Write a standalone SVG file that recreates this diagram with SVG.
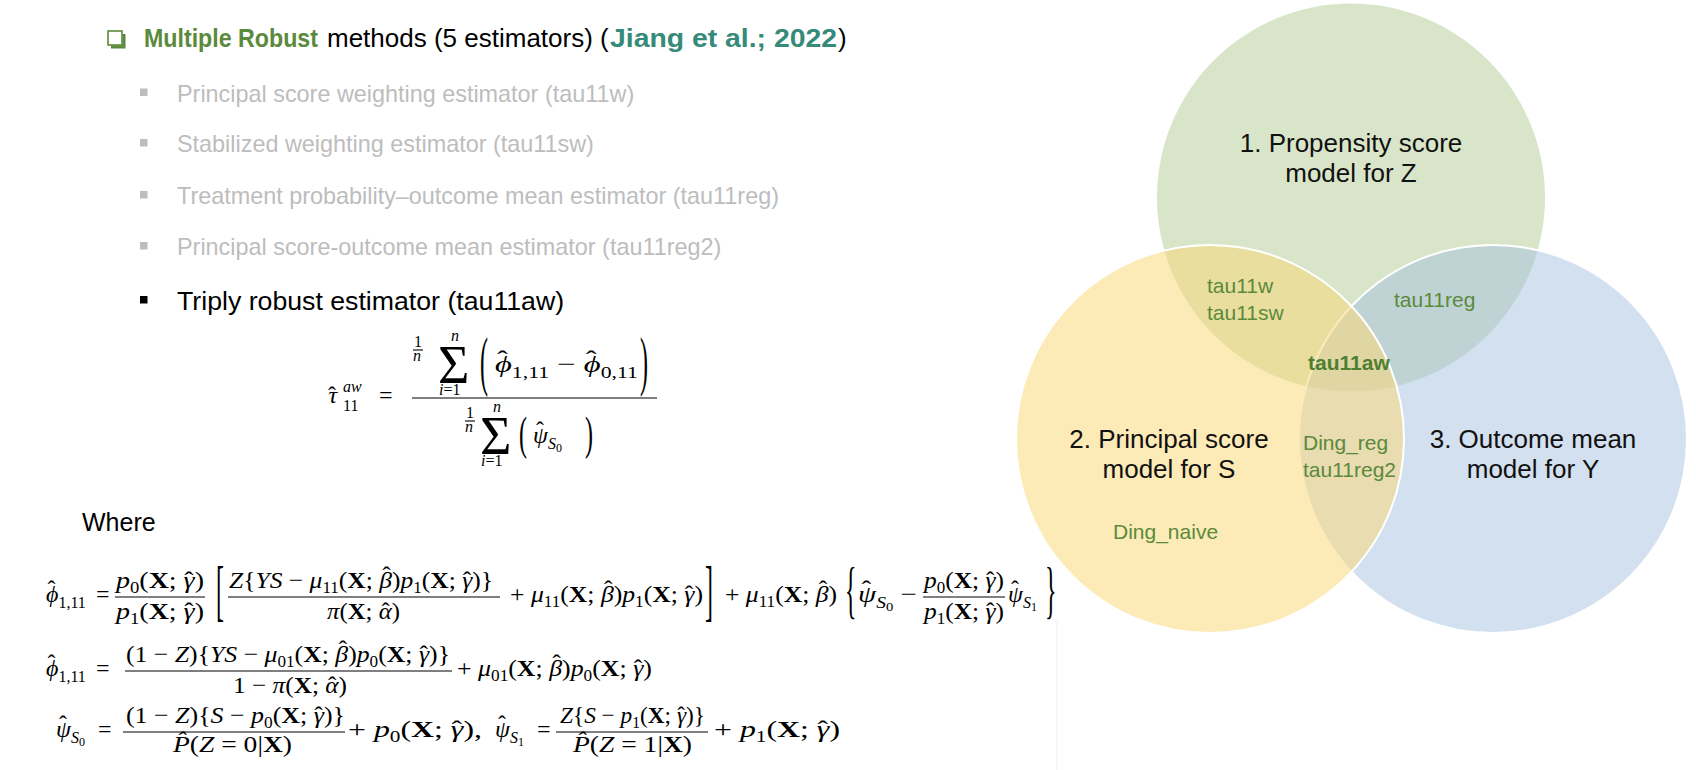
<svg xmlns="http://www.w3.org/2000/svg" width="1696" height="770" viewBox="0 0 1696 770">
<style>
.s{font-family:"Liberation Sans",Arial,sans-serif}
.h{font-size:26px;fill:#000}
.hb{font-size:26px;font-weight:bold}
.g{font-size:23.4px;fill:#BDBDBD}
.t{font-size:26.7px;fill:#000}
.vl{font-size:26px;fill:#111;text-anchor:middle}
.vs{font-size:21px;fill:#5A8A3A}
.mt{font-family:"Liberation Serif","DejaVu Serif",serif;font-size:24px;font-style:italic;fill:#000}
.r{font-style:normal}
.b{font-weight:bold;font-style:normal}
.m16{font-size:16px}
.m12{font-size:12px}
.bar{stroke:#000;stroke-width:1.1}
</style>
<rect width="1696" height="770" fill="#fff"/>

<g id="venn">
  <g id="circle-propensity"><circle cx="1351" cy="197.5" r="194" fill="#D8E5C9"/></g>
  <g id="circle-outcome"><circle cx="1493" cy="439" r="194" fill="#A7C1DF" fill-opacity="0.5" stroke="#fff" stroke-width="2"/></g>
  <g id="circle-principal"><circle cx="1210" cy="439" r="194" fill="#FAD97C" fill-opacity="0.55" stroke="#fff" stroke-width="2"/></g>
  <g id="venn-labels" class="s">
    <text class="vl" x="1351" y="152">1. Propensity score</text>
    <text class="vl" x="1351" y="182">model for Z</text>
    <text class="vl" x="1169" y="448">2. Principal score</text>
    <text class="vl" x="1169" y="478">model for S</text>
    <text class="vl" x="1533" y="448">3. Outcome mean</text>
    <text class="vl" x="1533" y="478">model for Y</text>
    <text class="vs" x="1207" y="292.5">tau11w</text>
    <text class="vs" x="1207" y="320">tau11sw</text>
    <text class="vs" x="1394" y="307">tau11reg</text>
    <text class="vs" x="1308" y="370" style="font-weight:bold;fill:#4F7F30">tau11aw</text>
    <text class="vs" x="1303" y="450">Ding_reg</text>
    <text class="vs" x="1303" y="477">tau11reg2</text>
    <text class="vs" x="1113" y="539">Ding_naive</text>
  </g>
</g>

<g id="header" class="s">
  <rect x="108" y="31" width="14" height="14" fill="#fff" stroke="#5B8A3A" stroke-width="1.6"/>
  <path d="M111 47 H124 V34" fill="none" stroke="#5B8A3A" stroke-width="3"/>
  <text class="hb" x="144" y="47" style="fill:#5B8A3A" textLength="174" lengthAdjust="spacingAndGlyphs">Multiple Robust</text>
  <text class="h" x="327" y="47">methods (5 estimators) (</text>
  <text class="hb" x="610" y="47" style="fill:#368A7A" textLength="227" lengthAdjust="spacingAndGlyphs">Jiang et al.; 2022</text>
  <text class="h" x="838" y="47">)</text>
</g>

<g id="estimator-list" class="s">
  <rect x="140" y="88.5" width="7.5" height="7.5" fill="#BDBDBD"/>
  <text class="g" x="177" y="101.5">Principal score weighting estimator (tau11w)</text>
  <rect x="140" y="139" width="7.5" height="7.5" fill="#BDBDBD"/>
  <text class="g" x="177" y="152">Stabilized weighting estimator (tau11sw)</text>
  <rect x="140" y="191" width="7.5" height="7.5" fill="#BDBDBD"/>
  <text class="g" x="177" y="203.5">Treatment probability–outcome mean estimator (tau11reg)</text>
  <rect x="140" y="242" width="7.5" height="7.5" fill="#BDBDBD"/>
  <text class="g" x="177" y="254.5">Principal score-outcome mean estimator (tau11reg2)</text>
  <rect x="140" y="296" width="7.5" height="7.5" fill="#000"/>
  <text class="t" x="177" y="310">Triply robust estimator (tau11aw)</text>
</g>

<g id="formula-tau">
  <text class="mt" x="328" y="403">&#x3C4;<tspan class="r" dx="-9">&#x2C6;</tspan></text>
  <text class="mt m16" x="343" y="392">aw</text>
  <text class="mt r m16" x="343" y="411">11</text>
  <text class="mt r" x="379" y="403">=</text>
  <line class="bar" x1="412" y1="398" x2="657" y2="398"/>
  <text class="mt r m16" x="414" y="347">1</text>
  <line class="bar" x1="413" y1="350" x2="423" y2="350"/>
  <text class="mt m16" x="413" y="361">n</text>
  <text class="mt r" style="font-size:54px" x="438" y="383">&#x3A3;</text>
  <text class="mt m16" x="451" y="341">n</text>
  <text class="mt m16" x="439" y="395">i<tspan class="r">=1</tspan></text>
  <text class="mt r" transform="translate(480,382.5) scale(1,2.7)">(</text>
  <text class="mt" x="495" y="372" textLength="143" lengthAdjust="spacingAndGlyphs">&#x3D5;<tspan class="r" dx="-11" dy="-5">&#x2C6;</tspan><tspan class="r m16" dx="3" dy="11">1,11</tspan><tspan class="r" dy="-6"> &#x2212; </tspan>&#x3D5;<tspan class="r" dx="-11" dy="-5">&#x2C6;</tspan><tspan class="r m16" dx="3" dy="11">0,11</tspan></text>
  <text class="mt r" transform="translate(640,382.5) scale(1,2.7)">)</text>
  <text class="mt r m16" x="466" y="418">1</text>
  <line class="bar" x1="465" y1="421" x2="475" y2="421"/>
  <text class="mt m16" x="465" y="432">n</text>
  <text class="mt r" style="font-size:54px" x="480" y="454">&#x3A3;</text>
  <text class="mt m16" x="493" y="412">n</text>
  <text class="mt m16" x="481" y="466">i<tspan class="r">=1</tspan></text>
  <text class="mt r" transform="translate(519,449) scale(1,1.9)">(</text>
  <text class="mt" x="533" y="443">&#x3C8;<tspan class="r" dx="-12" dy="-5">&#x2C6;</tspan><tspan class="m16" dx="4" dy="11">S</tspan><tspan class="r m12" dy="3">0</tspan></text>
  <text class="mt r" transform="translate(585,449) scale(1,1.9)">)</text>
</g>

<g id="where" class="s">
  <text class="t" x="82" y="531" style="font-size:25px">Where</text>
</g>

<g id="formula-phi1">
  <text class="mt" x="46" y="602">&#x3D5;<tspan class="r" dx="-11" dy="-5">&#x2C6;</tspan><tspan class="r m16" dx="3" dy="11">1,11</tspan></text>
  <text class="mt r" x="96" y="602">=</text>
  <text class="mt" x="116" y="588" textLength="88" lengthAdjust="spacingAndGlyphs">p<tspan class="r m16" dy="5">0</tspan><tspan class="r" dy="-5">(</tspan><tspan class="b">X</tspan><tspan class="r">; </tspan>&#x3B3;<tspan class="r" dx="-9">&#x2C6;</tspan><tspan class="r" dx="1">)</tspan></text>
  <line class="bar" x1="115" y1="597" x2="205" y2="597"/>
  <text class="mt" x="116" y="619" textLength="88" lengthAdjust="spacingAndGlyphs">p<tspan class="r m16" dy="5">1</tspan><tspan class="r" dy="-5">(</tspan><tspan class="b">X</tspan><tspan class="r">; </tspan>&#x3B3;<tspan class="r" dx="-9">&#x2C6;</tspan><tspan class="r" dx="1">)</tspan></text>
  <text class="mt r" transform="translate(216,613) scale(1,2.8)">[</text>
  <text class="mt" x="229" y="588" textLength="264" lengthAdjust="spacingAndGlyphs">Z<tspan class="r">{</tspan>YS<tspan class="r"> &#x2212; </tspan>&#x3BC;<tspan class="r m16" dy="5">11</tspan><tspan class="r" dy="-5">(</tspan><tspan class="b">X</tspan><tspan class="r">; </tspan>&#x3B2;<tspan class="r" dx="-9" dy="-5">&#x2C6;</tspan><tspan class="r" dx="1" dy="5">)</tspan>p<tspan class="r m16" dy="5">1</tspan><tspan class="r" dy="-5">(</tspan><tspan class="b">X</tspan><tspan class="r">; </tspan>&#x3B3;<tspan class="r" dx="-9">&#x2C6;</tspan><tspan class="r" dx="1">)}</tspan></text>
  <line class="bar" x1="228" y1="597" x2="500" y2="597"/>
  <text class="mt" x="327" y="619" textLength="73" lengthAdjust="spacingAndGlyphs">&#x3C0;<tspan class="r">(</tspan><tspan class="b">X</tspan><tspan class="r">; </tspan>&#x3B1;<tspan class="r" dx="-10">&#x2C6;</tspan><tspan class="r" dx="2">)</tspan></text>
  <text class="mt" x="510" y="602" textLength="193" lengthAdjust="spacingAndGlyphs"><tspan class="r">+ </tspan>&#x3BC;<tspan class="r m16" dy="5">11</tspan><tspan class="r" dy="-5">(</tspan><tspan class="b">X</tspan><tspan class="r">; </tspan>&#x3B2;<tspan class="r" dx="-9" dy="-5">&#x2C6;</tspan><tspan class="r" dx="1" dy="5">)</tspan>p<tspan class="r m16" dy="5">1</tspan><tspan class="r" dy="-5">(</tspan><tspan class="b">X</tspan><tspan class="r">; </tspan>&#x3B3;<tspan class="r" dx="-9">&#x2C6;</tspan><tspan class="r" dx="1">)</tspan></text>
  <text class="mt r" transform="translate(705,613) scale(1,2.8)">]</text>
  <text class="mt" x="725" y="602" textLength="112" lengthAdjust="spacingAndGlyphs"><tspan class="r">+ </tspan>&#x3BC;<tspan class="r m16" dy="5">11</tspan><tspan class="r" dy="-5">(</tspan><tspan class="b">X</tspan><tspan class="r">; </tspan>&#x3B2;<tspan class="r" dx="-9" dy="-5">&#x2C6;</tspan><tspan class="r" dx="1" dy="5">)</tspan></text>
  <text class="mt r" transform="translate(845,611) scale(1,2.6)">{</text>
  <text class="mt" x="858" y="602" textLength="59" lengthAdjust="spacingAndGlyphs">&#x3C8;<tspan class="r" dx="-12" dy="-5">&#x2C6;</tspan><tspan class="m16" dx="4" dy="11">S</tspan><tspan class="r m12" dy="3">0</tspan><tspan class="r" dy="-9"> &#x2212;</tspan></text>
  <text class="mt" x="924" y="588" textLength="80" lengthAdjust="spacingAndGlyphs">p<tspan class="r m16" dy="5">0</tspan><tspan class="r" dy="-5">(</tspan><tspan class="b">X</tspan><tspan class="r">; </tspan>&#x3B3;<tspan class="r" dx="-9">&#x2C6;</tspan><tspan class="r" dx="1">)</tspan></text>
  <line class="bar" x1="923" y1="597" x2="1005" y2="597"/>
  <text class="mt" x="924" y="619" textLength="80" lengthAdjust="spacingAndGlyphs">p<tspan class="r m16" dy="5">1</tspan><tspan class="r" dy="-5">(</tspan><tspan class="b">X</tspan><tspan class="r">; </tspan>&#x3B3;<tspan class="r" dx="-9">&#x2C6;</tspan><tspan class="r" dx="1">)</tspan></text>
  <text class="mt" x="1008" y="602">&#x3C8;<tspan class="r" dx="-12" dy="-5">&#x2C6;</tspan><tspan class="m16" dx="4" dy="11">S</tspan><tspan class="r m12" dy="3">1</tspan></text>
  <text class="mt r" transform="translate(1045,611) scale(1,2.6)">}</text>
</g>

<g id="formula-phi0">
  <text class="mt" x="46" y="676">&#x3D5;<tspan class="r" dx="-11" dy="-5">&#x2C6;</tspan><tspan class="r m16" dx="3" dy="11">1,11</tspan></text>
  <text class="mt r" x="96" y="676">=</text>
  <text class="mt" x="126" y="662" textLength="324" lengthAdjust="spacingAndGlyphs"><tspan class="r">(1 &#x2212; </tspan>Z<tspan class="r">){</tspan>YS<tspan class="r"> &#x2212; </tspan>&#x3BC;<tspan class="r m16" dy="5">01</tspan><tspan class="r" dy="-5">(</tspan><tspan class="b">X</tspan><tspan class="r">; </tspan>&#x3B2;<tspan class="r" dx="-9" dy="-5">&#x2C6;</tspan><tspan class="r" dx="1" dy="5">)</tspan>p<tspan class="r m16" dy="5">0</tspan><tspan class="r" dy="-5">(</tspan><tspan class="b">X</tspan><tspan class="r">; </tspan>&#x3B3;<tspan class="r" dx="-9">&#x2C6;</tspan><tspan class="r" dx="1">)}</tspan></text>
  <line class="bar" x1="125" y1="671" x2="452" y2="671"/>
  <text class="mt" x="233" y="693" textLength="114" lengthAdjust="spacingAndGlyphs"><tspan class="r">1 &#x2212; </tspan>&#x3C0;<tspan class="r">(</tspan><tspan class="b">X</tspan><tspan class="r">; </tspan>&#x3B1;<tspan class="r" dx="-10">&#x2C6;</tspan><tspan class="r" dx="2">)</tspan></text>
  <text class="mt" x="457" y="676" textLength="195" lengthAdjust="spacingAndGlyphs"><tspan class="r">+ </tspan>&#x3BC;<tspan class="r m16" dy="5">01</tspan><tspan class="r" dy="-5">(</tspan><tspan class="b">X</tspan><tspan class="r">; </tspan>&#x3B2;<tspan class="r" dx="-9" dy="-5">&#x2C6;</tspan><tspan class="r" dx="1" dy="5">)</tspan>p<tspan class="r m16" dy="5">0</tspan><tspan class="r" dy="-5">(</tspan><tspan class="b">X</tspan><tspan class="r">; </tspan>&#x3B3;<tspan class="r" dx="-9">&#x2C6;</tspan><tspan class="r" dx="1">)</tspan></text>
</g>

<g id="formula-psi">
  <text class="mt" x="56" y="737">&#x3C8;<tspan class="r" dx="-12" dy="-5">&#x2C6;</tspan><tspan class="m16" dx="4" dy="11">S</tspan><tspan class="r m12" dy="3">0</tspan></text>
  <text class="mt r" x="98" y="737">=</text>
  <text class="mt" x="126" y="723" textLength="219" lengthAdjust="spacingAndGlyphs"><tspan class="r">(1 &#x2212; </tspan>Z<tspan class="r">){</tspan>S<tspan class="r"> &#x2212; </tspan>p<tspan class="r m16" dy="5">0</tspan><tspan class="r" dy="-5">(</tspan><tspan class="b">X</tspan><tspan class="r">; </tspan>&#x3B3;<tspan class="r" dx="-9">&#x2C6;</tspan><tspan class="r" dx="1">)}</tspan></text>
  <line class="bar" x1="123" y1="732" x2="345" y2="732"/>
  <text class="mt" x="173" y="752" textLength="119" lengthAdjust="spacingAndGlyphs">P&#x302;<tspan class="r">(</tspan>Z<tspan class="r"> = 0|</tspan><tspan class="b">X</tspan><tspan class="r">)</tspan></text>
  <text class="mt" x="348" y="737" textLength="134" lengthAdjust="spacingAndGlyphs"><tspan class="r">+ </tspan>p<tspan class="r m16" dy="5">0</tspan><tspan class="r" dy="-5">(</tspan><tspan class="b">X</tspan><tspan class="r">; </tspan>&#x3B3;<tspan class="r" dx="-9">&#x2C6;</tspan><tspan class="r" dx="1">),</tspan></text>
  <text class="mt" x="495" y="737">&#x3C8;<tspan class="r" dx="-12" dy="-5">&#x2C6;</tspan><tspan class="m16" dx="4" dy="11">S</tspan><tspan class="r m12" dy="3">1</tspan></text>
  <text class="mt r" x="537" y="737">=</text>
  <text class="mt" x="560" y="723" textLength="145" lengthAdjust="spacingAndGlyphs">Z<tspan class="r">{</tspan>S<tspan class="r"> &#x2212; </tspan>p<tspan class="r m16" dy="5">1</tspan><tspan class="r" dy="-5">(</tspan><tspan class="b">X</tspan><tspan class="r">; </tspan>&#x3B3;<tspan class="r" dx="-9">&#x2C6;</tspan><tspan class="r" dx="1">)}</tspan></text>
  <line class="bar" x1="556" y1="732" x2="708" y2="732"/>
  <text class="mt" x="573" y="752" textLength="119" lengthAdjust="spacingAndGlyphs">P&#x302;<tspan class="r">(</tspan>Z<tspan class="r"> = 1|</tspan><tspan class="b">X</tspan><tspan class="r">)</tspan></text>
  <text class="mt" x="714" y="737" textLength="126" lengthAdjust="spacingAndGlyphs"><tspan class="r">+ </tspan>p<tspan class="r m16" dy="5">1</tspan><tspan class="r" dy="-5">(</tspan><tspan class="b">X</tspan><tspan class="r">; </tspan>&#x3B3;<tspan class="r" dx="-9">&#x2C6;</tspan><tspan class="r" dx="1">)</tspan></text>
</g>

<line x1="1057" y1="618" x2="1057" y2="770" stroke="#F0F0F0" stroke-width="1"/>
</svg>
